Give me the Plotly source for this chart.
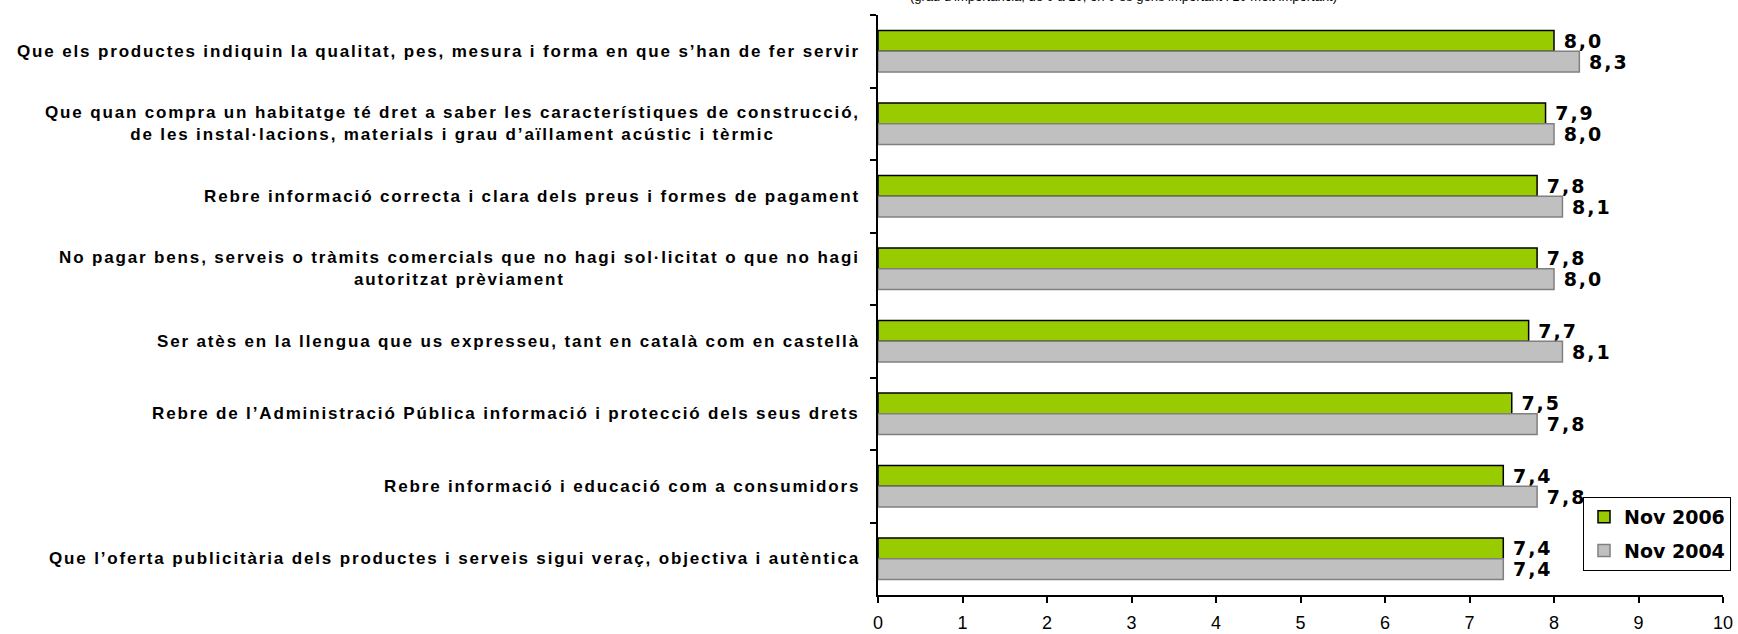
import plotly.graph_objects as go

# Survey items (top to bottom) and mean importance scores (0-10)
categories = [
    "Que els productes indiquin la qualitat, pes, mesura i forma en que s’han de fer servir",
    "Que quan compra un habitatge té dret a saber les característiques de construcció,<br>de les instal·lacions, materials i grau d’aïllament acústic i tèrmic",
    "Rebre informació correcta i clara dels preus i formes de pagament",
    "No pagar bens, serveis o tràmits comercials que no hagi sol·licitat o que no hagi<br>autoritzat prèviament",
    "Ser atès en la llengua que us expresseu, tant en català com en castellà",
    "Rebre de l’Administració Pública informació i protecció dels seus drets",
    "Rebre informació i educació com a consumidors",
    "Que l’oferta publicitària dels productes i serveis sigui veraç, objectiva i autèntica",
]
nov_2006 = [8.0, 7.9, 7.8, 7.8, 7.7, 7.5, 7.4, 7.4]
nov_2004 = [8.3, 8.0, 8.1, 8.0, 8.1, 7.8, 7.8, 7.4]
series_names = ["Nov 2006", "Nov 2004"]
x_ticks = list(range(0, 11))
subtitle = "(grau d’importància, de 0 a 10, on 0 és gens important i 10 molt important)"

W, H = 1738, 634
M = dict(l=878, r=15, t=15, b=39, autoexpand=False)


def spaced(text, px):
    """Wrap every line of a label in a letter-spaced span."""
    return "<br>".join(
        f'<span style="letter-spacing:{px}px">{line}</span>' for line in text.split("<br>")
    )


cat_keys = [f"c{i}" for i in range(len(categories))]
label_tpl = '\u00a0<span style="letter-spacing:2px">%{x:.1f}</span>'
label_font = dict(family="DejaVu Sans", size=19, color="black", weight="bold")

fig = go.Figure()
fig.add_trace(go.Bar(
    name=series_names[0], y=cat_keys, x=nov_2006, orientation="h",
    legendgroup="a",
    marker=dict(color="#99CC00", line=dict(color="black", width=1.5)),
    texttemplate=label_tpl, textposition="outside", textfont=label_font,
    cliponaxis=False, constraintext="none", hoverinfo="skip",
))
fig.add_trace(go.Bar(
    name=series_names[1], y=cat_keys, x=nov_2004, orientation="h",
    legendgroup="b",
    marker=dict(color="#C0C0C0", line=dict(color="#808080", width=1.5)),
    texttemplate=label_tpl, textposition="outside", textfont=label_font,
    cliponaxis=False, constraintext="none", hoverinfo="skip",
))

# Category labels, centred line by line and right-aligned against the axis
for key, text in zip(cat_keys, categories):
    fig.add_annotation(
        xref="paper", yref="y", x=0, y=key, xshift=-16,
        xanchor="right", yanchor="middle", align="center",
        text=spaced(text, 1.85), showarrow=False,
        font=dict(family="Liberation Sans", size=17, color="black", weight="bold"),
    )

fig.add_annotation(
    xref="paper", yref="paper", x=0.29, y=1, yshift=9,
    xanchor="center", yanchor="bottom", text=subtitle, showarrow=False,
    font=dict(family="Liberation Sans", size=13, color="black"),
)

plot_w = W - M["l"] - M["r"]
plot_h = H - M["t"] - M["b"]

fig.update_layout(
    width=W, height=H, margin=M, autosize=False,
    paper_bgcolor="white", plot_bgcolor="white",
    separators=",.",
    barmode="group", bargap=0.426, bargroupgap=0,
    showlegend=True,
    legend=dict(
        x=(1583 - M["l"]) / plot_w, y=(H - M["b"] - 497) / plot_h,
        xanchor="left", yanchor="top",
        bgcolor="white", bordercolor="black", borderwidth=1,
        font=dict(family="DejaVu Sans", size=19, color="black", weight="bold"),
        itemwidth=30, traceorder="grouped", tracegroupgap=6,
    ),
    xaxis=dict(
        range=[0, 10], tickvals=x_ticks, ticktext=[str(v) for v in x_ticks],
        showgrid=False, zeroline=False, automargin=False,
        showline=True, linecolor="black", linewidth=2,
        ticks="outside", ticklen=6, tickwidth=2, tickcolor="black",
        ticklabelstandoff=4,
        tickfont=dict(family="Liberation Sans", size=18, color="black"),
    ),
    yaxis=dict(
        autorange="reversed", showgrid=False, zeroline=False, automargin=False,
        showline=True, linecolor="black", linewidth=2,
        ticks="outside", tickson="boundaries", ticklen=6, tickwidth=2, tickcolor="black",
        showticklabels=False,
    ),
)

fig.write_html("out.html")
